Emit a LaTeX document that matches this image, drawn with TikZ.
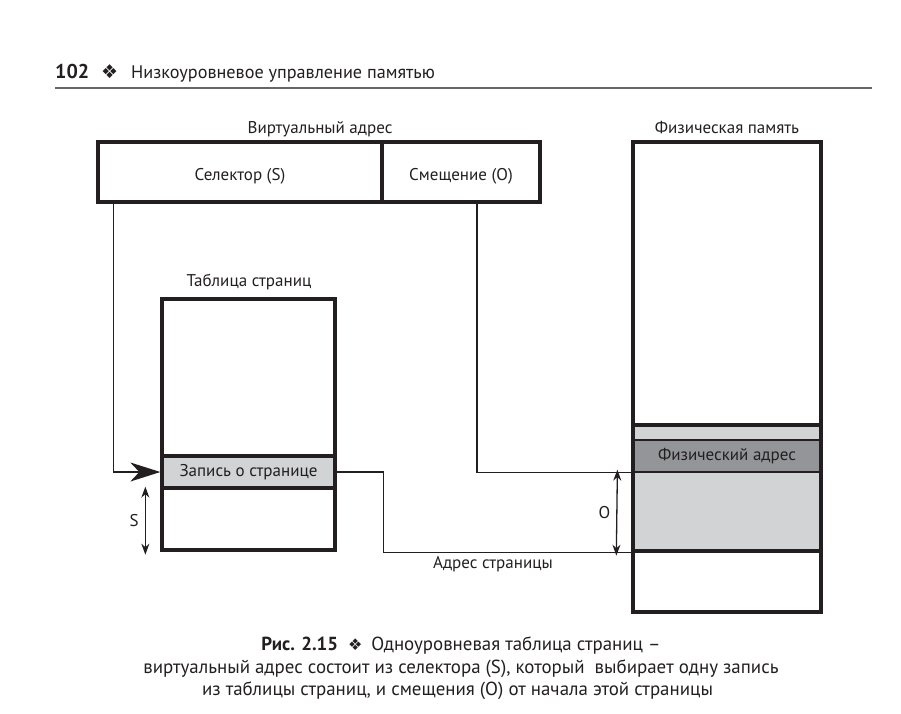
\documentclass[tikz,border=0pt]{standalone}
\usepackage{fontspec}
\setmainfont{PT Sans}
\newfontfamily\symfont{DejaVu Sans}
\usetikzlibrary{arrows.meta}
\definecolor{ink}{HTML}{231F20}
\definecolor{lightgrey}{HTML}{D1D3D4}
\definecolor{darkgrey}{HTML}{939598}

\begin{document}
\begin{tikzpicture}[x=1pt, y=-1pt,
    box/.style={draw=ink, line width=3.3pt, inner sep=0pt, text=ink, font=\fontsize{17}{20}\selectfont},
    field/.style={box, minimum height=60pt, text height=16pt, text depth=0pt},
    wire/.style={draw=ink, line width=1.3pt},
    dim/.style={draw=ink, line width=1.3pt, shorten <=-3pt, shorten >=-3pt, {Stealth[length=11pt, width=8pt]}-{Stealth[length=11pt, width=8pt]}},
    lbl/.style={inner sep=0pt, text=ink, font=\fontsize{17}{20}\selectfont},
    headtext/.style={anchor=base west, inner sep=0pt, text=ink, font=\fontsize{18.2}{23}\selectfont},
    captext/.style={anchor=base, inner sep=0pt, text=ink, font=\fontsize{18.9}{22}\selectfont}]
    \useasboundingbox (0,0) rectangle (901,713);

    \node[headtext, font=\fontsize{20}{23}\selectfont\bfseries] (pagenum) at (55,78) {102};
    \node[headtext, font=\symfont\fontsize{19}{22}\selectfont] (headsym) at (101,78) {❖};
    \node[headtext] (head) at (131,78) {Низкоуровневое управление памятью};
    \draw[black!60, line width=1.8pt] (55,88) -- (872,88);

    \node[field, minimum width=284pt] (selector) at (240,172) {Селектор (S)};
    \node[field, minimum width=158pt] (offset) at (461,172) {Смещение (O)};
    \node[lbl, anchor=base] (vaddr) at (320,133) {Виртуальный адрес};

    \node[box, minimum width=173pt, minimum height=251pt] (table) at (248.5,424.5) {};
    \node[box, fill=lightgrey, minimum width=173pt, minimum height=32pt] (entry) at (248.5,472) {Запись о странице};
    \node[lbl, anchor=base] (tlabel) at (249,286) {Таблица страниц};

    \node[box, fill=lightgrey, minimum width=188pt, minimum height=126pt] (pframe) at (727,488) {};
    \node[box, fill=darkgrey, line width=1.3pt, minimum width=188pt, minimum height=32pt] (physaddr) at (727,456) {Физический адрес};
    \node[box, minimum width=188pt, minimum height=470pt] (phys) at (727,377) {};
    \node[lbl, anchor=base] (plabel) at (727,133) {Физическая память};

    \draw[wire, -{Stealth[length=30pt, width=19pt, inset=9pt]}] ([xshift=17pt]selector.south west) |- (entry.west);
    \draw[wire] ([xshift=16pt]offset.south) |- (physaddr.south west);
    \draw[wire] (entry.east) -- ++(47,0) |- (pframe.south west);
    \node[lbl, anchor=base] (paddr) at (493,568) {Адрес страницы};

    \draw[dim] ([xshift=-15pt]entry.south west) -- ([xshift=-15pt]table.south west) node[lbl, midway, left=6pt] (slabel) {S};
    \draw[dim] ([xshift=-15pt]physaddr.south west) -- ([xshift=-15pt]pframe.south west) node[lbl, midway, left=6pt] (olabel) {O};

    \node[captext] (cap1) at (461,650) {\textbf{Рис. 2.15}\hspace{10pt}{\symfont\fontsize{16}{18}\selectfont ❖}\hspace{9pt}Одноуровневая таблица страниц –};
    \node[captext] (cap2) at (461,673) {виртуальный адрес состоит из селектора (S), который\ \ выбирает одну запись};
    \node[captext] (cap3) at (457.5,695) {из таблицы страниц, и смещения (О) от начала этой страницы};
\end{tikzpicture}
\end{document}
